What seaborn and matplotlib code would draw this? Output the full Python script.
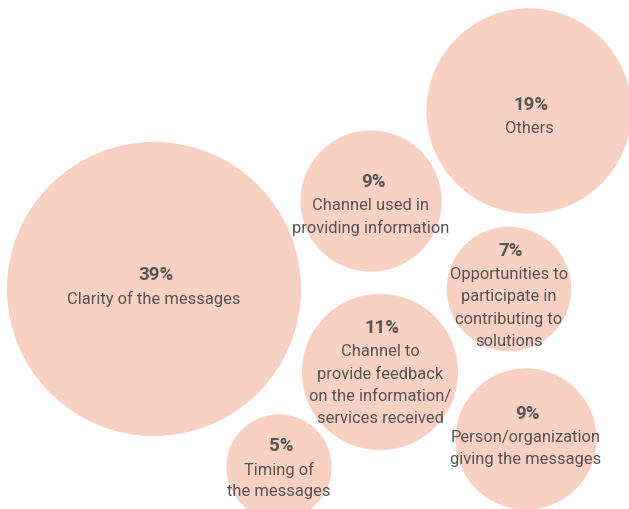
import matplotlib
matplotlib.use("Agg")
import matplotlib.pyplot as plt
import pandas as pd
import seaborn as sns

# Survey shares (percent) and their category labels
values = [39, 19, 9, 7, 11, 9, 5]
labels = [
    "Clarity of the messages",
    "Others",
    "Channel used in\nproviding information",
    "Opportunities to\nparticipate in\ncontributing to\nsolutions",
    "Channel to\nprovide feedback\non the information/\nservices received",
    "Person/organization\ngiving the messages",
    "Timing of\nthe messages",
]

# Bubble layout on a 629 x 510 pixel canvas (centres) and the y of each percent line
centre_x = [154, 529, 371, 509, 380, 526, 279]
centre_y = [290, 112, 202, 290, 373, 440, 468]
text_y = [275, 105, 182, 251, 328, 414, 446]

W, H, DPI = 629, 510, 100
FILL = "#F9D1C3"
INK = "#555555"

sns.set_theme(style="white")
plt.rcParams["font.family"] = ["Roboto", "DejaVu Sans"]

df = pd.DataFrame({"x": centre_x, "y": centre_y, "share": values, "label": labels})

fig = plt.figure(figsize=(W / DPI, H / DPI), dpi=DPI)
ax = fig.add_axes([0, 0, 1, 1])

# Marker area proportional to the share: radius_px = k * sqrt(share)
k = 23.55
pts_per_px = 72 / DPI
area_per_unit = (2 * k * pts_per_px) ** 2
vmin, vmax = min(values), max(values)
sns.scatterplot(
    data=df, x="x", y="y", size="share",
    sizes=(area_per_unit * vmin, area_per_unit * vmax), size_norm=(vmin, vmax),
    color=FILL, linewidth=0, alpha=1, legend=False, ax=ax, clip_on=False,
)

for cx, ty, v, lab in zip(centre_x, text_y, values, labels):
    ax.text(cx + 2, ty, f"{v}%", ha="center", va="center",
            fontsize=13.5, fontweight="bold", color=INK)
    for i, line in enumerate(lab.split("\n")):
        ax.text(cx, ty + 23.5 + 22.3 * i, line, ha="center", va="center",
                fontsize=11.9, color=INK)

ax.set_xlim(0, W)
ax.set_ylim(H, 0)
ax.set_axis_off()

fig.savefig("out.png", dpi=DPI, facecolor="white")
